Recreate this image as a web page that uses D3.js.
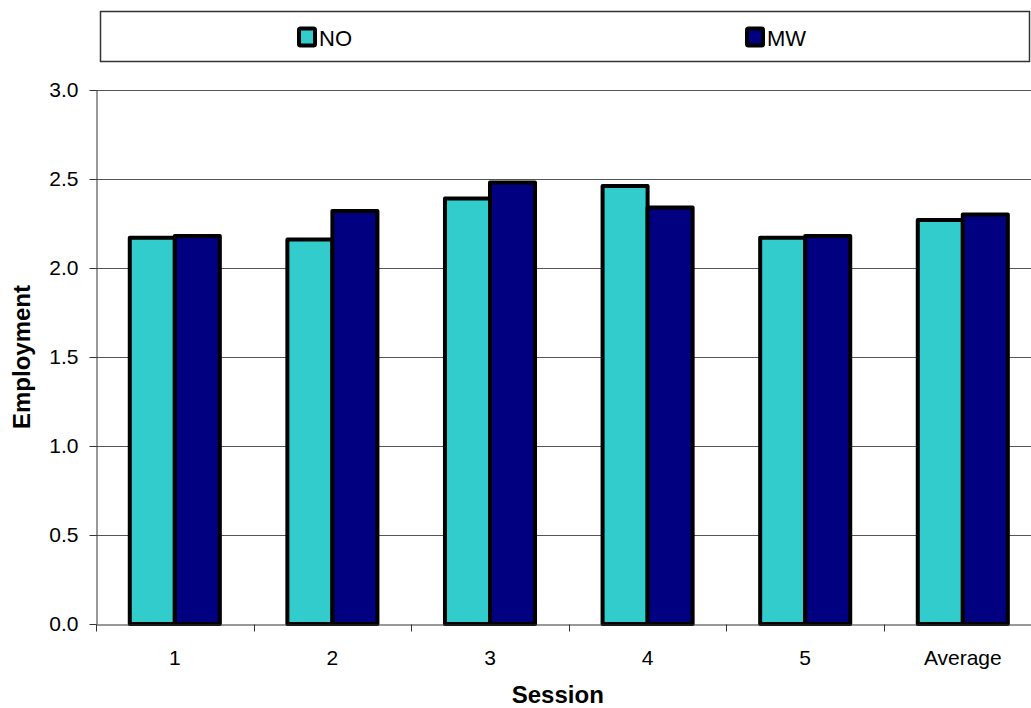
<!DOCTYPE html>
<html>
<head>
<meta charset="utf-8">
<script src="https://cdn.jsdelivr.net/npm/d3@7"></script>
<style>
  html, body { margin: 0; padding: 0; background: #fff; }
  svg { display: block; font-family: "Liberation Sans", Arial, sans-serif; }
</style>
</head>
<body>
<svg id="chart" width="1031" height="708"></svg>
<script>
// Session labels and mean employment per treatment
const categories = ["1", "2", "3", "4", "5", "Average"];
const seriesNames = ["NO", "MW"];
const noValues = [2.17, 2.16, 2.39, 2.46, 2.17, 2.27];
const mwValues = [2.18, 2.32, 2.48, 2.34, 2.18, 2.30];
const yTicks = [0, 0.5, 1.0, 1.5, 2.0, 2.5, 3.0];
const colors = { NO: "#33CCCC", MW: "#000080" };

const svg = d3.select("#chart");

const plotLeft = 96, plotTop = 90, plotBottom = 624;
const step = 157.6;
const plotRight = plotLeft + step * categories.length;

const x = d3.scaleBand().domain(categories).range([plotLeft, plotRight]).padding(0);
const bw = x.bandwidth() / 3.5;
const xs = d3.scaleBand().domain(seriesNames)
  .range([x.bandwidth() / 2 - bw, x.bandwidth() / 2 + bw]).padding(0);
const y = d3.scaleLinear().domain([0, 3]).range([plotBottom, plotTop]);

const rows = categories.map((c, i) => ({ cat: c, NO: noValues[i], MW: mwValues[i] }));

// horizontal gridlines
svg.append("g").selectAll("line").data(yTicks.filter(t => t > 0)).join("line")
  .attr("x1", plotLeft).attr("x2", plotRight)
  .attr("y1", d => Math.round(y(d)) + 0.5).attr("y2", d => Math.round(y(d)) + 0.5)
  .attr("stroke", "#555").attr("stroke-width", 1);

// bars
const groups = svg.append("g").selectAll("g").data(rows).join("g")
  .attr("transform", d => `translate(${x(d.cat)},0)`);
groups.selectAll("rect")
  .data(d => seriesNames.map(s => ({ s, v: d[s] })))
  .join("rect")
  .attr("x", d => xs(d.s))
  .attr("width", xs.bandwidth())
  .attr("y", d => y(d.v))
  .attr("height", d => y(0) - y(d.v))
  .attr("fill", d => colors[d.s])
  .attr("stroke", "#000")
  .attr("stroke-width", 4)
  .attr("stroke-linejoin", "round");

// y axis
const yAxis = d3.axisLeft(y).tickValues(yTicks).tickFormat(d3.format(".1f"))
  .tickSize(7).tickSizeOuter(0).tickPadding(11);
const gy = svg.append("g").attr("transform", `translate(${plotLeft + 0.5},0)`).call(yAxis);
gy.select(".domain").attr("stroke", "#333");
gy.selectAll(".tick line").attr("stroke", "#333");
gy.selectAll(".tick text").attr("font-size", 21).attr("fill", "#000")
  .attr("font-family", "Liberation Sans, Arial, sans-serif");

// x axis: labels centred on categories, tick marks on category boundaries
const xAxis = d3.axisBottom(x).tickSize(0).tickSizeOuter(0).tickPadding(26);
const gx = svg.append("g").attr("transform", `translate(0,${plotBottom + 0.5})`).call(xAxis);
gx.select(".domain").attr("stroke", "#333");
gx.selectAll(".tick text").attr("font-size", 21).attr("fill", "#000")
  .attr("font-family", "Liberation Sans, Arial, sans-serif");
gx.selectAll("line.bound").data(categories).join("line")
  .attr("class", "bound")
  .attr("x1", d => Math.round(x(d)) + 0.5).attr("x2", d => Math.round(x(d)) + 0.5)
  .attr("y1", 0).attr("y2", 7)
  .attr("stroke", "#333");

// axis titles
svg.append("text")
  .attr("transform", `translate(30,${(plotTop + plotBottom) / 2}) rotate(-90)`)
  .attr("text-anchor", "middle")
  .attr("font-size", 24).attr("font-weight", "bold")
  .text("Employment");
svg.append("text")
  .attr("x", (plotLeft + plotRight) / 2 - 11).attr("y", 703)
  .attr("text-anchor", "middle")
  .attr("font-size", 24).attr("font-weight", "bold")
  .text("Session");

// legend
const legend = svg.append("g");
legend.append("rect")
  .attr("x", 100.5).attr("y", 11.5).attr("width", 929).attr("height", 50)
  .attr("fill", "#fff").attr("stroke", "#333").attr("stroke-width", 1.5);
const legendX = { NO: 299, MW: 747 };
seriesNames.forEach(s => {
  legend.append("rect")
    .attr("x", legendX[s]).attr("y", 28.5).attr("width", 16).attr("height", 17)
    .attr("fill", colors[s]).attr("stroke", "#000").attr("stroke-width", 4).attr("rx", 1.5);
  legend.append("text")
    .attr("x", legendX[s] + 20).attr("y", 46)
    .attr("font-size", 22)
    .text(s);
});
</script>
</body>
</html>
